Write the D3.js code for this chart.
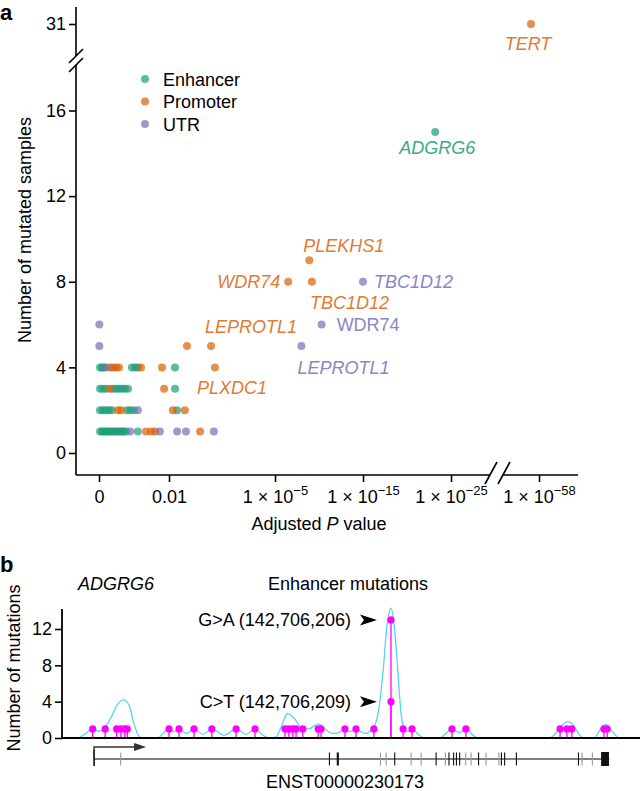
<!DOCTYPE html>
<html><head><meta charset="utf-8"><title>chart</title>
<script src="https://cdn.jsdelivr.net/npm/d3@7/dist/d3.min.js"></script>
<style>
html,body{margin:0;padding:0;background:#fff;}
svg{display:block;}
text{font-family:"Liberation Sans",Arial,Helvetica,sans-serif;}
</style></head>
<body>
<svg id="chart" width="642" height="791"></svg>
<script>
// ================= Panel a data =================
const categories = ["Enhancer", "Promoter", "UTR"];
// x = -log10(adjusted P), y = number of mutated samples
const enhancerP = [0.03,0.09,0.14,0.2,0.26,0.31,0.37,0.43,0.49,0.54,0.6,0.66,0.71,0.77,1.11,
                   0.03,0.11,0.2,0.29,0.37,0.8,0.89,1.0,2.23,
                   0.03,0.11,0.2,0.4,0.49,0.57,0.66,0.74,0.83,2.17,
                   0.03,0.09,0.14,0.94,1.03,1.11,2.17,
                   23.2];
const enhancerN = [1,1,1,1,1,1,1,1,1,1,1,1,1,1,1,
                   2,2,2,2,2,2,2,2,2,
                   3,3,3,3,3,3,3,3,3,3,
                   4,4,4,4,4,4,4,
                   15];
const promoterP = [1.34,1.49,1.6,2.88,
                   0.54,0.63,2.11,2.45,
                   0.31,1.86,
                   0.31,0.4,0.49,0.57,1.2,1.8,3.3,
                   2.51,3.19,
                   6.5,9.2,8.9,55];
const promoterN = [1,1,1,1,
                   2,2,2,2,
                   3,3,
                   4,4,4,4,4,4,4,
                   5,5,
                   8,8,9,31];
const utrP = [0.89,1.74,2.23,2.48,3.27, 1.11, 0.2, 0.01,8.0, 0.01, 10.3, 15];
const utrN = [1,1,1,1,1, 2, 4, 5,5, 6, 6, 8];

const yTicksA = [0,4,8,12,16,31];
const xTickValues = [0,2,5,15,25,58];
const xTickBase = ["0","0.01","1 × 10","1 × 10","1 × 10","1 × 10"];
const xTickExp  = ["","","−5","−15","−25","−58"];

const geneLabels   = ["TERT","ADGRG6","PLEKHS1","WDR74","TBC1D12","TBC1D12","WDR74","LEPROTL1","LEPROTL1","PLXDC1"];
const geneLabelCat = ["Promoter","Enhancer","Promoter","Promoter","Promoter","UTR","UTR","Promoter","UTR","Promoter"];
const geneLabelP   = [55,23.2,8.9,6.5,9.2,15,10.3,3.19,8.0,3.3];
const geneLabelN   = [31,15,9,8,8,8,6,5,5,4];

// ================= Panel b data =================
// positions in kb on chr6
const mutPos = [142622.6,142626.1,142629.3,142630.5,142631.6,142632.3,
                142644.0,142646.8,142651.0,142656.0,142662.8,142668.1,
                142676.5,142677.6,142678.7,142679.6,142681.5,142685.8,142686.6,
                142693.3,142696.4,142701.4,142706.206,142706.209,142709.6,142712.1,
                142723.3,142727.2,142753.6,142755.5,142756.9,142765.9,142766.8];
const mutCount = [1,1,1,1,1,1, 1,1,1,1,1,1, 1,1,1,1,1,1,1, 1,1,1,13,4,1,1, 1,1,1,1,1,1,1];

const densityPos = [142618.5,142620.7,142622.6,142624.4,142626.1,142627.7,142629.4,142631.3,142632.8,142634.2,142635.6,142636.7,
  142640.9,142642.3,142644.0,142645.4,142646.9,142648.8,142651.0,142653.5,142656.0,142659.4,142662.9,142665.6,142668.1,142670.3,142672.3,
  142674.0,142675.4,142677.2,142679.0,142681.3,142683.2,142684.6,142686.0,142687.7,142690.0,142691.6,142693.3,142694.7,142696.4,142698.9,
  142701.4,142702.8,142704.0,142705.1,142706.2,142707.1,142708.2,142709.0,142709.7,142711.0,142712.2,142713.8,142715.5,
  142719.9,142721.6,142723.3,142725.3,142727.2,142728.9,142730.6,
  142750.8,142752.5,142754.1,142755.7,142757.2,142758.6,142760.0,
  142763.1,142764.8,142766.4,142767.9,142769.8];
const densityVal = [0,0.5,1.0,0.75,1.2,2.2,3.6,4.2,3.6,1.5,0.2,0,
  0,0.5,1.0,0.7,1.0,0.5,1.0,0.4,1.0,0.3,1.0,0.4,1.0,0.3,0,
  0.1,1.2,2.7,2.2,1.1,1.0,1.3,1.55,1.0,0.5,0.6,1.0,0.7,1.0,0.5,
  1.2,3.2,7.4,12.4,14.3,12.4,7.0,2.8,1.3,0.7,1.0,0.4,0,
  0,0.5,1.0,0.6,1.0,0.4,0,
  0,0.6,1.4,1.8,1.5,0.6,0,
  0,0.9,1.5,0.9,0];

const yTicksB = [0,4,8,12];
const transcriptStart = 142622.99, transcriptEnd = 142767.40;
const exonStart = [142630.3,142688.8,142691.0,142703.1,142704.7,142707.1,142711.7,142714.5,142718.7,142721.3,142722.3,142723.6,
                   142724.4,142725.3,142727.0,142728.5,142730.6,142732.7,142736.3,142737.0,142737.9,142741.2,142758.6,142759.6,142762.5,142765.1];
const exonEnd   = [142630.5,142689.0,142691.6,142703.3,142704.9,142707.3,142711.9,142714.7,142718.9,142721.5,142722.5,142723.8,
                   142724.6,142725.5,142727.2,142728.7,142730.8,142732.9,142736.5,142737.2,142738.1,142741.4,142758.8,142759.8,142762.7,142767.3];
const exonKind  = ["u","c","c","u","u","c","u","u","c","u","c","c","c","c","u","u","c","u","u","c","c","c","c","u","u","c"];
const annotText = ["G>A (142,706,206)","C>T (142,706,209)"];
const annotCount = [13,4];
const annotPos = 142706.2;

// ================= Drawing =================
const FONT = "Liberation Sans, Arial, Helvetica, sans-serif";
const svg = d3.select("#chart");
const catColor = {Enhancer:"#1b9e77", Promoter:"#d95f02", UTR:"#7570b3"};
const catText  = {Enhancer:"#3aa982", Promoter:"#e07c32", UTR:"#8a86c4"};

// ---- panel a ----
const xA = d3.scaleLinear().domain(xTickValues).range([99,169,275,363,451,539]);
const yA = d3.scaleLinear().domain([0,16,31]).range([453,110.5,24]);
const AX_X = 76, AX_Y = 475;

svg.append("text").attr("x",0).attr("y",20).attr("font-size",22).attr("font-weight","bold").text("a");

const pts = [];
categories.forEach(c=>{
  const P = c==="Enhancer"?enhancerP:c==="Promoter"?promoterP:utrP;
  const N = c==="Enhancer"?enhancerN:c==="Promoter"?promoterN:utrN;
  P.forEach((p,i)=>pts.push({cat:c,p:p,n:N[i]}));
});
svg.append("g").selectAll("circle").data(pts).join("circle")
  .attr("cx",d=>xA(d.p)).attr("cy",d=>yA(d.n)).attr("r",4)
  .attr("fill",d=>catColor[d.cat]).attr("fill-opacity",0.7);

// y axis
const gy = svg.append("g").attr("transform",`translate(${AX_X},0)`)
  .call(d3.axisLeft(yA).tickValues(yTicksA).tickSize(7).tickPadding(3));
gy.select(".domain").remove();
gy.selectAll("line").attr("stroke","#000").attr("stroke-width",1.6);
gy.selectAll("text").attr("font-size",18).attr("font-family",FONT).attr("fill","#000");
svg.append("path").attr("d",`M${AX_X},7V56M${AX_X},65V${AX_Y}`).attr("stroke","#000").attr("stroke-width",1.6).attr("fill","none");
svg.append("path").attr("d","M69,63L83,49M69,72L83,58").attr("stroke","#000").attr("stroke-width",1.6);

// x axis
const gx = svg.append("g").attr("transform",`translate(0,${AX_Y})`)
  .call(d3.axisBottom(xA).tickValues(xTickValues).tickSize(7).tickFormat(""));
gx.select(".domain").remove();
gx.selectAll("line").attr("stroke","#000").attr("stroke-width",1.6);
gx.selectAll(".tick").each(function(d,i){
  const t = d3.select(this).append("text").attr("y",28).attr("text-anchor","middle")
    .attr("fill","#000").attr("font-size",18).attr("font-family",FONT);
  t.append("tspan").text(xTickBase[i]);
  if (xTickExp[i]) t.append("tspan").attr("font-size",13).attr("dy",-8).text(xTickExp[i]);
});
svg.append("path").attr("d",`M${AX_X},${AX_Y}H490M503,${AX_Y}H578`).attr("stroke","#000").attr("stroke-width",1.6).attr("fill","none");
svg.append("path").attr("d","M485,484L497,462M498,484L510,462").attr("stroke","#000").attr("stroke-width",1.6);

// axis titles
const xt = svg.append("text").attr("x",319).attr("y",530).attr("text-anchor","middle").attr("font-size",18);
xt.append("tspan").text("Adjusted ");
xt.append("tspan").attr("font-style","italic").text("P");
xt.append("tspan").text(" value");
svg.append("text").attr("transform","translate(31,230) rotate(-90)").attr("text-anchor","middle")
  .attr("font-size",18).text("Number of mutated samples");

// legend
const leg = svg.append("g");
categories.forEach((c,i)=>{
  const y = 79 + i*22.5;
  leg.append("circle").attr("cx",145).attr("cy",y).attr("r",4).attr("fill",catColor[c]).attr("fill-opacity",0.7);
  leg.append("text").attr("x",163).attr("y",y+6.5).attr("font-size",18).text(c);
});

// gene labels (offsets are layout only)
const labelLayout = [
  {dx:-3, dy:26, a:"middle", it:true},
  {dx:2,  dy:22, a:"middle", it:true},
  {dx:-6, dy:-8, a:"start",  it:true},
  {dx:-8, dy:6,  a:"end",    it:true},
  {dx:-2, dy:27, a:"start",  it:true},
  {dx:11, dy:6,  a:"start",  it:true},
  {dx:15, dy:6,  a:"start",  it:false},
  {dx:-6, dy:-13,a:"start",  it:true},
  {dx:-4, dy:28, a:"start",  it:true},
  {dx:-18,dy:27, a:"start",  it:true}
];
geneLabels.forEach((g,i)=>{
  const L = labelLayout[i];
  svg.append("text").attr("x",xA(geneLabelP[i])+L.dx).attr("y",yA(geneLabelN[i])+L.dy)
    .attr("text-anchor",L.a).attr("font-size",18).attr("font-style",L.it?"italic":"normal")
    .attr("fill",catText[geneLabelCat[i]]).text(g);
});

// ---- panel b ----
const xB = d3.scaleLinear().domain([142614,142776]).range([62,640]);
const yB = d3.scaleLinear().domain([0,12]).range([738,629]);
const BX = 62, BY = 738;

svg.append("text").attr("x",0).attr("y",572).attr("font-size",22).attr("font-weight","bold").text("b");
svg.append("text").attr("x",78).attr("y",590).attr("font-size",18).attr("font-style","italic").text("ADGRG6");
svg.append("text").attr("x",348).attr("y",590).attr("text-anchor","middle").attr("font-size",18).text("Enhancer mutations");

// density curve
const dens = densityPos.map((p,i)=>[p,densityVal[i]]);
svg.append("path").datum(dens)
  .attr("d",d3.line().x(d=>xB(d[0])).y(d=>yB(d[1])).curve(d3.curveMonotoneX))
  .attr("fill","none").attr("stroke","#55d6e8").attr("stroke-width",1.3);

// lollipops
const muts = mutPos.map((p,i)=>({p:p,n:mutCount[i]}));
svg.append("g").selectAll("line").data(muts).join("line")
  .attr("x1",d=>xB(d.p)).attr("x2",d=>xB(d.p)).attr("y1",BY).attr("y2",d=>yB(d.n))
  .attr("stroke","#ff00ff").attr("stroke-width",1.3);
svg.append("g").selectAll("circle").data(muts).join("circle")
  .attr("cx",d=>xB(d.p)).attr("cy",d=>yB(d.n)).attr("r",3.6).attr("fill","#ff00ff");

// y axis b
const gyb = svg.append("g").attr("transform",`translate(${BX},0)`)
  .call(d3.axisLeft(yB).tickValues(yTicksB).tickSize(7).tickPadding(3));
gyb.select(".domain").remove();
gyb.selectAll("line").attr("stroke","#000").attr("stroke-width",1.6);
gyb.selectAll("text").attr("font-size",18).attr("font-family",FONT).attr("fill","#000");
svg.append("path").attr("d",`M${BX},609V${BY}H640`).attr("stroke","#000").attr("stroke-width",1.8).attr("fill","none");
svg.append("text").attr("transform","translate(20,668) rotate(-90)").attr("text-anchor","middle")
  .attr("font-size",18).text("Number of mutations");

// annotations
annotText.forEach((t,i)=>{
  const x = xB(annotPos), y = yB(annotCount[i]);
  svg.append("text").attr("x",x-40).attr("y",y+6.5).attr("text-anchor","end").attr("font-size",18).text(t);
  svg.append("path").attr("d",`M${x-31},${y-5.5}L${x-14},${y}L${x-31},${y+5.5}L${x-27},${y}Z`).attr("fill","#000");
});

// gene model
const GY = 759;
const xs = xB(transcriptStart), xe = xB(transcriptEnd);
svg.append("line").attr("x1",xs).attr("x2",xe).attr("y1",GY).attr("y2",GY).attr("stroke","#000").attr("stroke-width",1.2);
svg.append("line").attr("x1",xs).attr("x2",xs).attr("y1",GY-9).attr("y2",GY+7).attr("stroke","#000").attr("stroke-width",1.5);
svg.append("path").attr("d",`M${xs},${GY}V${GY-12}H${xs+42}`).attr("fill","none").attr("stroke","#333").attr("stroke-width",1.5);
svg.append("path").attr("d",`M${xs+40},${GY-16}L${xs+52},${GY-12}L${xs+40},${GY-8}Z`).attr("fill","#333");
exonStart.forEach((s,i)=>{
  const x0 = xB(s), w = Math.max(1.1, xB(exonEnd[i])-x0);
  const big = w > 5;
  svg.append("rect").attr("x",x0).attr("width",w)
    .attr("y",big?GY-7:GY-6.5).attr("height",big?14:13)
    .attr("fill",exonKind[i]==="c"?"#111":"#9a9a9a");
});
svg.append("text").attr("x",345).attr("y",788).attr("text-anchor","middle").attr("font-size",18).text("ENST00000230173");
</script>
</body></html>
